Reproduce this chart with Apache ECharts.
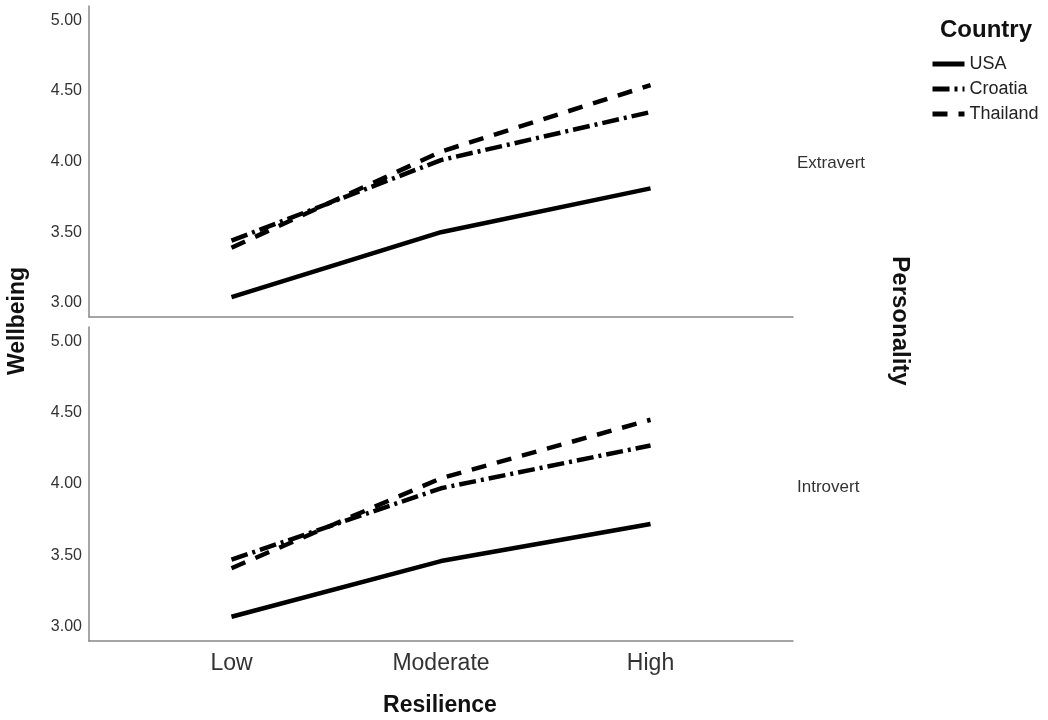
<!DOCTYPE html>
<html>
<head>
<meta charset="utf-8">
<script src="https://cdn.jsdelivr.net/npm/echarts@6/dist/echarts.min.js"></script>
<style>
html,body{margin:0;padding:0;background:#fff;}
#chart{width:1048px;height:720px;}
</style>
</head>
<body>
<div id="chart"></div>
<script>
const categories = ['Low', 'Moderate', 'High'];
const countries = ['USA', 'Croatia', 'Thailand'];
const panels = ['Extravert', 'Introvert'];
const yTicks = [3.0, 3.5, 4.0, 4.5, 5.0];

const extravertUSA = [3.04, 3.50, 3.81];
const extravertCroatia = [3.44, 4.01, 4.35];
const extravertThailand = [3.39, 4.07, 4.54];

const introvertUSA = [3.07, 3.46, 3.72];
const introvertCroatia = [3.47, 3.97, 4.27];
const introvertThailand = [3.41, 4.04, 4.45];

const FONT = '"Liberation Sans", Arial, sans-serif';
const dashTypes = { USA: 'solid', Croatia: [17, 5, 3, 5], Thailand: [15, 11] };

const panelData = [
  [extravertUSA, extravertCroatia, extravertThailand],
  [introvertUSA, introvertCroatia, introvertThailand]
];

const grids = [
  { left: 89, width: 704, top: 6, height: 311 },
  { left: 89, width: 704, top: 327, height: 314 }
];

function xAxisFor(i, showLabels) {
  return {
    type: 'value', gridIndex: i, min: -0.68, max: 2.68,
    axisLine: { show: true, onZero: false, lineStyle: { color: '#888', width: 1.5 } },
    axisTick: { show: false },
    splitLine: { show: false },
    axisLabel: {
      show: showLabels,
      customValues: categories.map((c, k) => k),
      formatter: v => categories[Math.round(v)],
      fontSize: 23, color: '#333', fontFamily: FONT, margin: 11
    }
  };
}
function yAxisFor(i) {
  return {
    type: 'value', gridIndex: i, min: 2.9, max: 5.1,
    axisLine: { show: true, onZero: false, lineStyle: { color: '#888', width: 1.5 } },
    axisTick: { show: false },
    splitLine: { show: false },
    axisLabel: {
      customValues: yTicks,
      formatter: v => v.toFixed(2),
      fontSize: 16, color: '#333', fontFamily: FONT, margin: 7
    }
  };
}

const series = [];
panelData.forEach((arrs, p) => {
  arrs.forEach((vals, k) => {
    series.push({
      name: countries[k],
      type: 'line',
      xAxisIndex: p, yAxisIndex: p,
      symbol: 'none',
      silent: true,
      lineStyle: { color: '#000', width: 4.5, type: dashTypes[countries[k]], cap: 'butt' },
      itemStyle: { color: '#000' },
      data: vals.map((v, c) => [c, v])
    });
  });
});

const chart = echarts.init(document.getElementById('chart'));
chart.setOption({
  animation: false,
  backgroundColor: '#fff',
  grid: grids,
  xAxis: [xAxisFor(0, false), xAxisFor(1, true)],
  yAxis: [yAxisFor(0), yAxisFor(1)],
  legend: {
    data: countries,
    orient: 'vertical',
    left: 930, top: 55, padding: 0,
    itemWidth: 32, itemHeight: 14, itemGap: 7,
    itemStyle: { opacity: 0 },
    lineStyle: { width: 5 },
    textStyle: { fontSize: 18, color: '#222', fontFamily: FONT },
    selectedMode: false
  },
  graphic: [
    { type: 'text', x: 986, y: 30, style: { text: 'Country', font: 'bold 24px ' + FONT, fill: '#111', align: 'center', verticalAlign: 'middle' } },
    { type: 'text', x: 797, y: 163, style: { text: panels[0], font: '17px ' + FONT, fill: '#333', align: 'left', verticalAlign: 'middle' } },
    { type: 'text', x: 797, y: 487, style: { text: panels[1], font: '17px ' + FONT, fill: '#333', align: 'left', verticalAlign: 'middle' } },
    { type: 'text', x: 900, y: 321, rotation: -Math.PI / 2, style: { text: 'Personality', font: 'bold 24px ' + FONT, fill: '#111', align: 'center', verticalAlign: 'middle' } },
    { type: 'text', x: 18, y: 321, rotation: Math.PI / 2, style: { text: 'Wellbeing', font: 'bold 23px ' + FONT, fill: '#111', align: 'center', verticalAlign: 'middle' } },
    { type: 'text', x: 440, y: 706, style: { text: 'Resilience', font: 'bold 23px ' + FONT, fill: '#111', align: 'center', verticalAlign: 'middle' } }
  ],
  series: series
});
</script>
</body>
</html>
